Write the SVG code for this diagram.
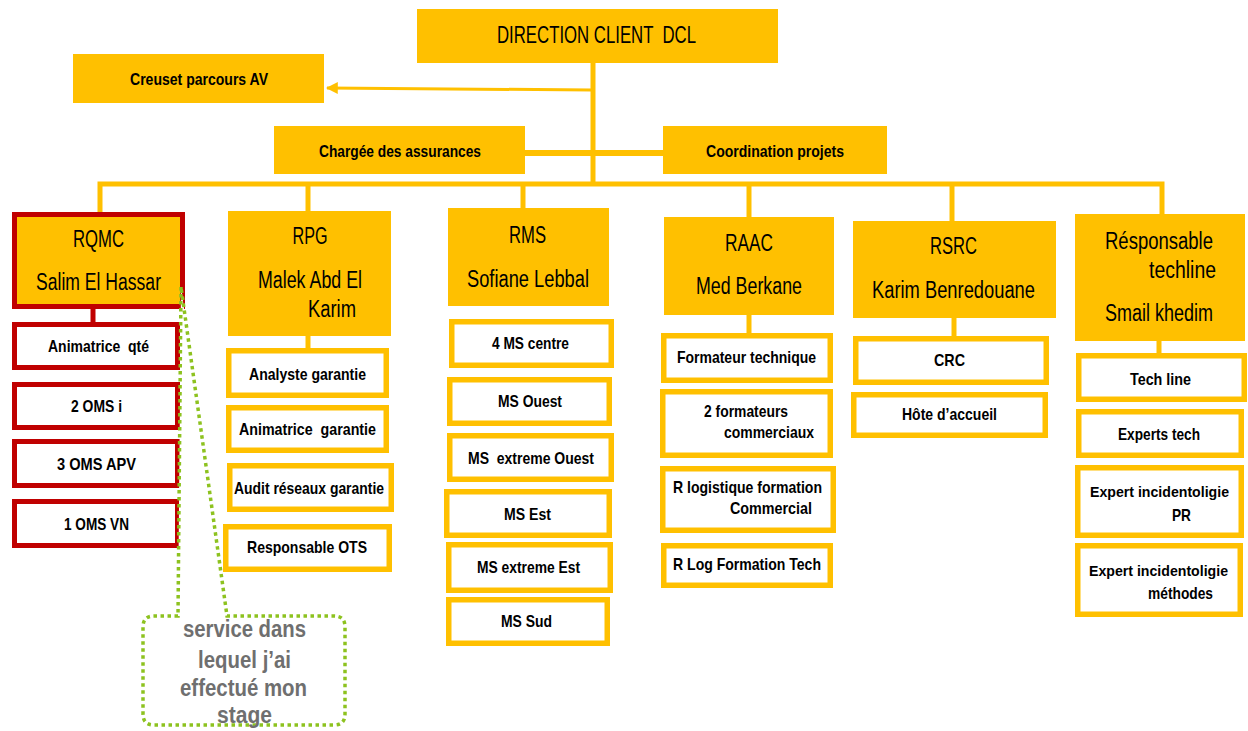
<svg xmlns="http://www.w3.org/2000/svg" width="1248" height="731" viewBox="0 0 1248 731">
<defs>
<style>
.hdr{fill:#FFC000}
.ch{fill:#fff;stroke:#FFC000;stroke-width:5.5}
.rch{fill:#fff;stroke:#C00000;stroke-width:5}
.bar{stroke:#FFC000;stroke-width:5;fill:none}
.rbar{stroke:#C00000;stroke-width:5;fill:none}
text{font-family:"Liberation Sans Narrow","Liberation Sans",Arial,sans-serif;text-anchor:middle;fill:#000;white-space:pre}
.t1{font-size:23px}
.t0{font-size:24px}
.t2{font-size:17px;font-weight:bold}
.t3{font-size:15px;font-weight:bold}
.tc{font-size:23px;font-weight:bold;fill:#6f6f6f}
</style>
<marker id="arr" viewBox="0 0 10 10" refX="9" refY="5" markerWidth="4" markerHeight="5" orient="auto" markerUnits="strokeWidth">
<path d="M0,0 L10,5 L0,10 Z" fill="#FFC000"/>
</marker>
</defs>
<rect width="1248" height="731" fill="#fff"/>

<g id="connectors">
<line class="bar" x1="593" y1="63" x2="593" y2="184"/>
<line x1="591" y1="90" x2="327" y2="88" stroke="#FFC000" stroke-width="3" marker-end="url(#arr)"/>
<line class="bar" x1="525" y1="153" x2="663" y2="153" style="stroke-width:6"/>
<polyline class="bar" points="100,212 100,184 1162,184 1162,214"/>
<line class="bar" x1="308" y1="184" x2="308" y2="211"/>
<line class="bar" x1="523" y1="184" x2="523" y2="208"/>
<line class="bar" x1="749" y1="184" x2="749" y2="217"/>
<line class="bar" x1="952" y1="184" x2="952" y2="221"/>
<line class="rbar" x1="93" y1="309" x2="93" y2="322"/>
<line class="bar" x1="308" y1="336" x2="308" y2="348"/>
<line class="bar" x1="749" y1="315" x2="749" y2="333"/>
<line class="bar" x1="954" y1="318" x2="954" y2="336"/>
<line class="bar" x1="1159" y1="341" x2="1159" y2="353"/>
</g>

<g id="dcl"><rect class="hdr" x="417" y="9" width="361" height="54"/><text class="t0" x="596.5" y="43" textLength="199" lengthAdjust="spacingAndGlyphs">DIRECTION CLIENT  DCL</text></g>
<g id="creuset"><rect class="hdr" x="73" y="54" width="251" height="49"/><text class="t2" x="199" y="85" textLength="138" lengthAdjust="spacingAndGlyphs">Creuset parcours AV</text></g>
<g id="chargee"><rect class="hdr" x="274" y="126" width="251" height="48"/><text class="t2" x="400" y="157" textLength="162" lengthAdjust="spacingAndGlyphs">Chargée des assurances</text></g>
<g id="coordination"><rect class="hdr" x="663" y="126" width="224" height="48"/><text class="t2" x="775" y="157" textLength="138" lengthAdjust="spacingAndGlyphs">Coordination projets</text></g>

<g id="rqmc"><rect x="14.5" y="214.5" width="168" height="92" fill="#FFC000" stroke="#C00000" stroke-width="5"/>
<text class="t1" x="98.5" y="247" textLength="51" lengthAdjust="spacingAndGlyphs">RQMC</text>
<text class="t1" x="98.5" y="290" textLength="125" lengthAdjust="spacingAndGlyphs">Salim El Hassar</text></g>
<g id="rqmc-1"><rect class="rch" x="14.5" y="324.5" width="163" height="43"/><text class="t2" x="98.5" y="352" textLength="101" lengthAdjust="spacingAndGlyphs">Animatrice  qté</text></g>
<g id="rqmc-2"><rect class="rch" x="14.5" y="384.5" width="163" height="43"/><text class="t2" x="96.5" y="412" textLength="51" lengthAdjust="spacingAndGlyphs">2 OMS i</text></g>
<g id="rqmc-3"><rect class="rch" x="14.5" y="441.5" width="163" height="44"/><text class="t2" x="96.5" y="470" textLength="79" lengthAdjust="spacingAndGlyphs">3 OMS APV</text></g>
<g id="rqmc-4"><rect class="rch" x="14.5" y="501.5" width="163" height="44"/><text class="t2" x="96.5" y="530" textLength="65" lengthAdjust="spacingAndGlyphs">1 OMS VN</text></g>

<g id="rpg"><rect class="hdr" x="228" y="211" width="163" height="125"/>
<text class="t1" x="310" y="244" textLength="35" lengthAdjust="spacingAndGlyphs">RPG</text>
<text class="t1" x="310" y="288" textLength="104" lengthAdjust="spacingAndGlyphs">Malek Abd El</text>
<text class="t1" x="332" y="317" textLength="48" lengthAdjust="spacingAndGlyphs">Karim</text></g>
<g id="rpg-1"><rect class="ch" x="228.75" y="350.75" width="157.5" height="44.5"/><text class="t2" x="307.5" y="380" textLength="117" lengthAdjust="spacingAndGlyphs">Analyste garantie</text></g>
<g id="rpg-2"><rect class="ch" x="228.75" y="407.75" width="157.5" height="42.5"/><text class="t2" x="307.5" y="435" textLength="137" lengthAdjust="spacingAndGlyphs">Animatrice  garantie</text></g>
<g id="rpg-3"><rect class="ch" x="229.75" y="465.75" width="161.5" height="43.5"/><text class="t2" x="309" y="494" textLength="150" lengthAdjust="spacingAndGlyphs">Audit réseaux garantie</text></g>
<g id="rpg-4"><rect class="ch" x="225.75" y="526.75" width="163.5" height="42.5"/><text class="t2" x="307" y="553" textLength="120" lengthAdjust="spacingAndGlyphs">Responsable OTS</text></g>

<g id="rms"><rect class="hdr" x="448" y="208" width="161" height="98"/>
<text class="t1" x="527.5" y="243" textLength="37" lengthAdjust="spacingAndGlyphs">RMS</text>
<text class="t1" x="528" y="287" textLength="122" lengthAdjust="spacingAndGlyphs">Sofiane Lebbal</text></g>
<g id="rms-1"><rect class="ch" x="451.75" y="321.75" width="159.5" height="43.5"/><text class="t2" x="530.5" y="349" textLength="77" lengthAdjust="spacingAndGlyphs">4 MS centre</text></g>
<g id="rms-2"><rect class="ch" x="449.75" y="379.75" width="159.5" height="43.5"/><text class="t2" x="530" y="407" textLength="64" lengthAdjust="spacingAndGlyphs">MS Ouest</text></g>
<g id="rms-3"><rect class="ch" x="449.75" y="435.75" width="161.5" height="43.5"/><text class="t2" x="531" y="464" textLength="126" lengthAdjust="spacingAndGlyphs">MS  extreme Ouest</text></g>
<g id="rms-4"><rect class="ch" x="446.75" y="491.75" width="162.5" height="43.5"/><text class="t2" x="527.5" y="520" textLength="47" lengthAdjust="spacingAndGlyphs">MS Est</text></g>
<g id="rms-5"><rect class="ch" x="448.75" y="544.75" width="161.5" height="45.5"/><text class="t2" x="528.5" y="573" textLength="103" lengthAdjust="spacingAndGlyphs">MS extreme Est</text></g>
<g id="rms-6"><rect class="ch" x="448.75" y="599.75" width="158.5" height="43.5"/><text class="t2" x="526.5" y="627" textLength="51" lengthAdjust="spacingAndGlyphs">MS Sud</text></g>

<g id="raac"><rect class="hdr" x="664" y="217" width="170" height="98"/>
<text class="t1" x="749" y="251" textLength="48" lengthAdjust="spacingAndGlyphs">RAAC</text>
<text class="t1" x="749" y="294" textLength="106" lengthAdjust="spacingAndGlyphs">Med Berkane</text></g>
<g id="raac-1"><rect class="ch" x="663.75" y="335.75" width="166.5" height="44.5"/><text class="t2" x="746.5" y="363" textLength="139" lengthAdjust="spacingAndGlyphs">Formateur technique</text></g>
<g id="raac-2"><rect class="ch" x="662.75" y="391.75" width="167.5" height="63.5"/><text class="t2" x="746" y="417" textLength="84" lengthAdjust="spacingAndGlyphs">2 formateurs</text><text class="t2" x="769" y="438" textLength="90" lengthAdjust="spacingAndGlyphs">commerciaux</text></g>
<g id="raac-3"><rect class="ch" x="662.75" y="468.75" width="170.5" height="61.5"/><text class="t2" x="747.5" y="493" textLength="149" lengthAdjust="spacingAndGlyphs">R logistique formation</text><text class="t2" x="771" y="514" textLength="82" lengthAdjust="spacingAndGlyphs">Commercial</text></g>
<g id="raac-4"><rect class="ch" x="663.75" y="545.75" width="166.5" height="39.5"/><text class="t2" x="747" y="570" textLength="148" lengthAdjust="spacingAndGlyphs">R Log Formation Tech</text></g>

<g id="rsrc"><rect class="hdr" x="853" y="221" width="203" height="97"/>
<text class="t1" x="953.5" y="254" textLength="47" lengthAdjust="spacingAndGlyphs">RSRC</text>
<text class="t1" x="953.5" y="298" textLength="163" lengthAdjust="spacingAndGlyphs">Karim Benredouane</text></g>
<g id="rsrc-1"><rect class="ch" x="855.75" y="338.75" width="190.5" height="43.5"/><text class="t2" x="949.5" y="366" textLength="31" lengthAdjust="spacingAndGlyphs">CRC</text></g>
<g id="rsrc-2"><rect class="ch" x="853.75" y="394.75" width="191.5" height="40.5"/><text class="t2" x="949.5" y="420" textLength="95" lengthAdjust="spacingAndGlyphs">Hôte d’accueil</text></g>

<g id="techline"><rect class="hdr" x="1075" y="214" width="170" height="127"/>
<text class="t1" x="1159" y="249" textLength="108" lengthAdjust="spacingAndGlyphs">Résponsable</text>
<text class="t1" x="1182.5" y="278" textLength="67" lengthAdjust="spacingAndGlyphs">techline</text>
<text class="t1" x="1159" y="321" textLength="108" lengthAdjust="spacingAndGlyphs">Smail khedim</text></g>
<g id="techline-1"><rect class="ch" x="1078.75" y="355.75" width="165.5" height="43.5"/><text class="t2" x="1160.5" y="385" textLength="61" lengthAdjust="spacingAndGlyphs">Tech line</text></g>
<g id="techline-2"><rect class="ch" x="1078.75" y="411.75" width="162.5" height="43.5"/><text class="t2" x="1159" y="440" textLength="82" lengthAdjust="spacingAndGlyphs">Experts tech</text></g>
<g id="techline-3"><rect class="ch" x="1077.75" y="467.75" width="163.5" height="67.5"/><text class="t3" x="1159.5" y="497" textLength="139" lengthAdjust="spacingAndGlyphs">Expert incidentoligie</text><text class="t2" x="1181.5" y="521" textLength="19" lengthAdjust="spacingAndGlyphs">PR</text></g>
<g id="techline-4"><rect class="ch" x="1077.75" y="545.75" width="162.5" height="68.5"/><text class="t3" x="1158.5" y="576" textLength="139" lengthAdjust="spacingAndGlyphs">Expert incidentoligie</text><text class="t2" x="1180.5" y="599" textLength="65" lengthAdjust="spacingAndGlyphs">méthodes</text></g>

<g id="callout">
<path d="M181,287 L178,616 L154,616 Q143,616 143,627 L143,714 Q143,725 154,725 L334,725 Q345,725 345,714 L345,627 Q345,616 334,616 L227,616 Z" fill="#fff" stroke="#8DC21F" stroke-width="3.5" stroke-dasharray="3.5 3.5"/>
<text class="tc" x="244.5" y="637" textLength="123" lengthAdjust="spacingAndGlyphs">service dans</text>
<text class="tc" x="244.5" y="668" textLength="93" lengthAdjust="spacingAndGlyphs">lequel j’ai</text>
<text class="tc" x="243.5" y="696" textLength="127" lengthAdjust="spacingAndGlyphs">effectué mon</text>
<text class="tc" x="244.5" y="723" textLength="55" lengthAdjust="spacingAndGlyphs">stage</text>
</g>
</svg>
